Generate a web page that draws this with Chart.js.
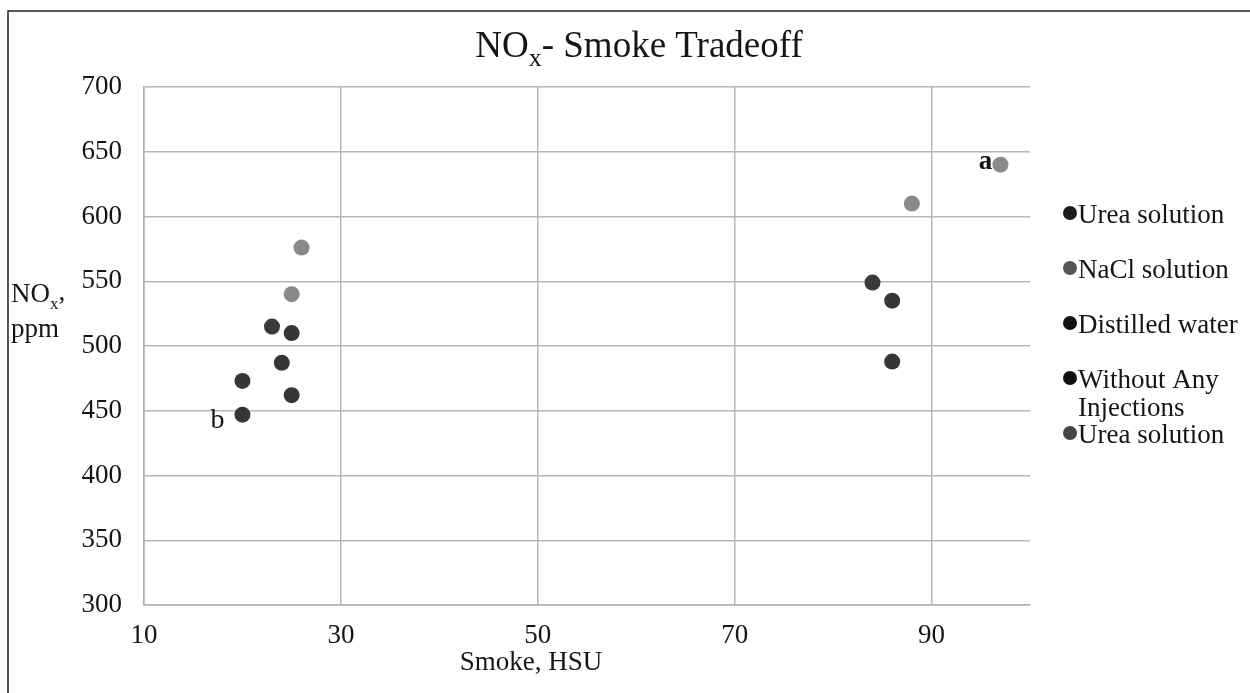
<!DOCTYPE html>
<html>
<head>
<meta charset="utf-8">
<script src="https://cdn.jsdelivr.net/npm/chart.js@4"></script>
<style>
  html, body { margin: 0; padding: 0; background: #fff; }
  #wrap { width: 1250px; height: 693px; position: relative; }
</style>
</head>
<body>
<div id="wrap"><canvas id="c" width="1250" height="693"></canvas></div>
<script>
// ---- Data ----
const seriesLabels = ["Urea solution", "NaCl solution", "Distilled water", "Without Any Injections", "Urea solution"];
const legendLines = [["Urea solution"], ["NaCl solution"], ["Distilled water"], ["Without Any", "Injections"], ["Urea solution"]];
const ureaSmoke = [25, 86];
const ureaNox = [462, 488];
const naclSmoke = [26, 25, 97, 88];
const naclNox = [576, 540, 640, 610];
const waterSmoke = [24, 25, 86];
const waterNox = [487, 510, 535];
const noneSmoke = [20, 20];
const noneNox = [447, 473];
const urea2Smoke = [23, 84];
const urea2Nox = [515, 549];
const xTicks = [10, 30, 50, 70, 90];
const yTicks = [300, 350, 400, 450, 500, 550, 600, 650, 700];

const pointColors = ["#363636", "#8a8a8a", "#363636", "#363636", "#3a3a3a"];
const legendColors = ["#1c1c1c", "#555555", "#111111", "#111111", "#444444"];

function pts(xs, ys) { return xs.map((x, i) => ({ x: x, y: ys[i] })); }
const seriesData = [
  pts(ureaSmoke, ureaNox),
  pts(naclSmoke, naclNox),
  pts(waterSmoke, waterNox),
  pts(noneSmoke, noneNox),
  pts(urea2Smoke, urea2Nox)
];

const SERIF = "'Liberation Serif', 'DejaVu Serif', serif";
const TXT = '#151515';

const decorPlugin = {
  id: 'decor',
  afterDraw(chart) {
    const ctx = chart.ctx;
    const xs = chart.scales.x, ys = chart.scales.y;
    ctx.save();
    // frame
    ctx.strokeStyle = '#222';
    ctx.lineWidth = 1.5;
    ctx.beginPath();
    ctx.moveTo(8, 693);
    ctx.lineTo(8, 11);
    ctx.lineTo(1250, 11);
    ctx.stroke();

    ctx.fillStyle = TXT;
    ctx.textBaseline = 'alphabetic';
    // Title with subscript
    const tBig = "37px " + SERIF, tSub = "26px " + SERIF;
    ctx.font = tBig;
    const wNO = ctx.measureText("NO").width;
    const wRest = ctx.measureText("- Smoke Tradeoff").width;
    ctx.font = tSub;
    const wX = ctx.measureText("x").width;
    let tx = 639 - (wNO + wX + wRest) / 2;
    const ty = 57;
    ctx.textAlign = 'left';
    ctx.font = tBig; ctx.fillText("NO", tx, ty); tx += wNO;
    ctx.font = tSub; ctx.fillText("x", tx, ty + 9); tx += wX;
    ctx.font = tBig; ctx.fillText("- Smoke Tradeoff", tx, ty);

    // Y axis title
    const aBig = "27px " + SERIF, aSub = "17px " + SERIF;
    ctx.font = aBig;
    ctx.fillText("NO", 11, 302);
    const wno = ctx.measureText("NO").width;
    ctx.font = aSub;
    ctx.fillText("x", 11 + wno, 309);
    const wx = ctx.measureText("x").width;
    ctx.font = aBig;
    ctx.fillText(",", 11 + wno + wx, 300);
    ctx.fillText("ppm", 11, 337);

    // X axis title
    ctx.textAlign = 'center';
    ctx.fillText("Smoke, HSU", 531, 670);

    // annotations
    ctx.font = "bold 27px " + SERIF;
    ctx.fillText("a", xs.getPixelForValue(97) - 15, ys.getPixelForValue(640) + 4);
    ctx.font = "28px " + SERIF;
    ctx.fillText("b", xs.getPixelForValue(20) - 25, ys.getPixelForValue(447) + 13);

    // Legend
    ctx.textAlign = 'left';
    ctx.font = "27px " + SERIF;
    const legY = [214, 269, 324, 379, 434];
    legendLines.forEach((lines, i) => {
      ctx.fillStyle = legendColors[i];
      ctx.beginPath();
      ctx.arc(1070, legY[i] - 1, 7, 0, Math.PI * 2);
      ctx.fill();
      ctx.fillStyle = TXT;
      lines.forEach((ln, j) => {
        ctx.fillText(ln, 1078, legY[i] + 9 + j * 28);
      });
    });
    ctx.restore();
  }
};

new Chart(document.getElementById('c'), {
  type: 'scatter',
  data: {
    datasets: seriesData.map((d, i) => ({
      label: seriesLabels[i],
      data: d,
      backgroundColor: pointColors[i],
      borderColor: pointColors[i],
      pointRadius: 8,
      pointHoverRadius: 8,
      pointBorderWidth: 0
    }))
  },
  options: {
    responsive: false,
    animation: false,
    devicePixelRatio: 1,
    layout: { padding: { left: 0, right: 220, top: 87, bottom: 0 } },
    plugins: {
      legend: { display: false },
      title: { display: false },
      tooltip: { enabled: false }
    },
    scales: {
      x: {
        type: 'linear',
        min: 10, max: 100,
        afterBuildTicks: s => { s.ticks = xTicks.concat([100]).map(v => ({ value: v })); },
        afterFit: s => { s.height = 88; },
        ticks: {
          padding: 15,
          color: TXT,
          font: { family: SERIF, size: 27 },
          callback: v => (xTicks.includes(v) ? String(v) : '')
        },
        grid: {
          drawTicks: false,
          color: c => (c.tick && c.tick.value === 100 ? 'rgba(0,0,0,0)' : '#b8b8b8'),
          lineWidth: 1.5
        },
        border: { display: true, color: '#b0b0b0', width: 1.5 }
      },
      y: {
        type: 'linear',
        min: 300, max: 700,
        afterBuildTicks: s => { s.ticks = yTicks.map(v => ({ value: v })); },
        afterFit: s => { s.width = 144; },
        ticks: {
          padding: 22,
          color: TXT,
          font: { family: SERIF, size: 27 }
        },
        grid: { drawTicks: false, color: '#b8b8b8', lineWidth: 1.5 },
        border: { display: true, color: '#b0b0b0', width: 1.5 }
      }
    }
  },
  plugins: [decorPlugin]
});
</script>
</body>
</html>
